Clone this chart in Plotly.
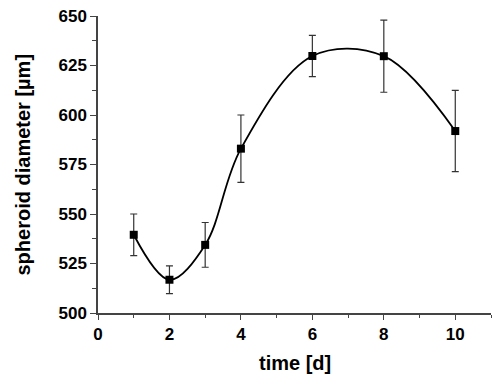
import plotly.graph_objects as go

time_d = [1, 2, 3, 4, 6, 8, 10]
diameter_um = [539.5, 516.8, 534.4, 583.0, 629.8, 629.7, 591.9]
err_um = [10.5, 7.0, 11.3, 17.0, 10.4, 18.2, 20.5]

fig = go.Figure()
fig.add_trace(go.Scatter(
    x=time_d, y=diameter_um, mode="lines",
    line=dict(color="black", width=1.8, shape="spline", smoothing=1.0),
    hoverinfo="skip", showlegend=False))
fig.add_trace(go.Scatter(
    x=time_d, y=diameter_um, mode="markers",
    marker=dict(symbol="square", size=8, color="black"),
    error_y=dict(type="data", array=err_um, visible=True, color="#333333", thickness=1.2, width=3.5),
    showlegend=False))

L, R, T, B = 98, 9, 16, 63
W, H = 500, 376
fig.update_layout(
    width=W, height=H,
    margin=dict(l=L, r=R, t=T, b=B, autoexpand=False),
    paper_bgcolor="white", plot_bgcolor="white",
    font=dict(family="Liberation Sans, Arial, sans-serif", color="black", size=17),
)
tickfont = dict(family="Liberation Sans", size=17, color="black", weight="bold")
fig.update_xaxes(
    range=[0, 11], tickvals=[0, 2, 4, 6, 8, 10], ticks="outside", ticklen=5, tickwidth=1.2,
    tickcolor="#444", showline=True, linecolor="#444", linewidth=1.5, showgrid=False, zeroline=False,
    minor=dict(tickvals=[1, 3, 5, 7, 9, 11], ticks="outside", ticklen=3, tickcolor="#444", tickwidth=1.2),
    tickfont=tickfont, automargin=False,
)
fig.update_yaxes(
    range=[500, 650], tickvals=[500, 525, 550, 575, 600, 625, 650], ticks="outside", ticklen=6, tickwidth=1.2,
    tickcolor="#444", showline=True, linecolor="#444", linewidth=1.5, showgrid=False, zeroline=False,
    minor=dict(tickvals=[512.5, 537.5, 562.5, 587.5, 612.5, 637.5], ticks="outside", ticklen=4, tickcolor="#444", tickwidth=1.2),
    tickfont=tickfont, automargin=False,
)
pw = W - L - R
ph = H - T - B
fig.add_annotation(text="<b>time [d]</b>", xref="paper", yref="paper",
                   x=0.5, y=-(363 - (H - B)) / ph, xanchor="center", yanchor="middle",
                   showarrow=False, font=dict(family="Liberation Sans", size=20, color="black"))
fig.add_annotation(text="<b>spheroid diameter [µm]</b>", xref="paper", yref="paper",
                   x=-(L - 22) / pw, y=0.5, xanchor="center", yanchor="middle", textangle=-90,
                   showarrow=False, font=dict(family="Liberation Sans", size=20, color="black"))
fig.write_html("out.html", config={"displayModeBar": False},
               post_script="document.body.style.margin='0';document.body.style.overflow='hidden';")
